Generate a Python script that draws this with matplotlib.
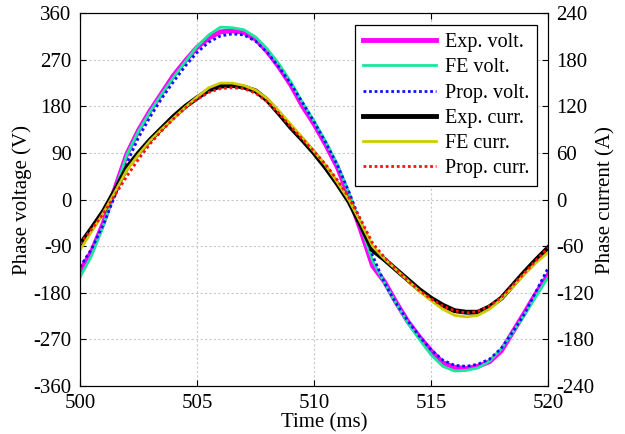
import numpy as np
import matplotlib
matplotlib.use("Agg")
import matplotlib.pyplot as plt

# time axis (ms)
t = np.arange(500.0, 520.01, 0.5)

# phase voltages (V)
exp_volt = [-138, -100, -45, 22, 88, 134, 172, 206, 240, 268, 294, 312, 324, 326, 323, 310,
            286, 256, 222, 181, 146, 106, 62, 5, -60, -128, -158, -198, -235, -265, -292, -315,
            -324, -326, -322, -313, -292, -255, -218, -180, -145]
fe_volt = [-150, -108, -50, 18, 86, 132, 170, 204, 236, 266, 296, 318, 333, 332, 328, 314,
           291, 262, 228, 188, 152, 112, 68, 12, -52, -118, -160, -200, -238, -270, -300, -322,
           -331, -330, -325, -312, -288, -256, -222, -186, -150]
prop_volt = [-130, -95, -48, 8, 70, 120, 160, 196, 228, 258, 284, 304, 316, 320, 318, 306,
             284, 256, 224, 188, 150, 110, 66, 14, -44, -108, -160, -200, -234, -264, -290, -310,
             -320, -322, -318, -308, -287, -255, -220, -176, -132]

# phase currents (A)
exp_curr = [-58, -37, -15, 12, 41, 60, 77, 92, 107, 120, 131, 141, 146, 147, 145, 140,
            128, 111, 93, 77, 60, 41, 20, -3, -33, -65, -77, -90, -103, -116, -127, -136,
            -143, -145, -145, -138, -127, -110, -93, -77, -62]
fe_curr = [-65, -41, -17, 10, 38, 58, 76, 91, 105, 119, 132, 144, 150, 150, 147, 141,
           130, 114, 97, 80, 62, 44, 22, -1, -30, -60, -76, -90, -104, -118, -130, -141,
           -149, -151, -149, -141, -128, -112, -96, -81, -68]
prop_curr = [-57, -38, -18, 6, 30, 52, 72, 89, 104, 118, 129, 138, 143, 144, 143, 137,
             126, 111, 94, 78, 62, 45, 25, 2, -26, -56, -74, -90, -104, -117, -128, -137,
             -143, -146, -144, -137, -126, -110, -94, -78, -62]

plt.rcParams["font.family"] = ["Liberation Serif", "DejaVu Serif"]
plt.rcParams["font.size"] = 15
plt.rcParams["axes.unicode_minus"] = False

fig = plt.figure(figsize=(6.25, 4.34), dpi=100)
ax = fig.add_axes([0.128, 0.1106, 0.749, 0.859])
ax2 = ax.twinx()

h1, = ax.plot(t, exp_volt, color="#FF00FF", lw=3.5, label="Exp. volt.")
h2, = ax.plot(t, fe_volt, color="#19E89A", lw=2, label="FE volt.")
h3, = ax.plot(t, prop_volt, color="#1010FF", lw=2, ls=(0, (1, 1)), label="Prop. volt.")
h4, = ax2.plot(t, exp_curr, color="black", lw=3.5, label="Exp. curr.")
h5, = ax2.plot(t, fe_curr, color="#CCCC00", lw=2, label="FE curr.")
h6, = ax2.plot(t, prop_curr, color="#FF1010", lw=2, ls=(0, (1, 1)), label="Prop. curr.")

ax.set_xlim(500, 520)
ax.set_ylim(-360, 360)
ax2.set_ylim(-240, 240)
ax.set_xticks(np.arange(500, 521, 5))
ax.set_yticks(np.arange(-360, 361, 90))
ax2.set_yticks(np.arange(-240, 241, 60))

ax.grid(True, color="#c8c8c8", ls=(0, (2, 2)), lw=0.8)
ax.tick_params(direction="in", top=True, length=4, pad=6, labelsize=15)
ax2.tick_params(direction="in", length=4, pad=6, labelsize=15)

ax.set_xlabel("Time (ms)")
ax.xaxis.set_label_coords(0.521, -0.072)
ax.set_ylabel("Phase voltage (V)", labelpad=1)
ax2.set_ylabel("Phase current (A)", labelpad=1)

leg = ax2.legend(handles=[h1, h2, h3, h4, h5, h6], loc="upper right",
                 bbox_to_anchor=(0.977, 0.968), handlelength=3.6, fancybox=False,
                 framealpha=1, edgecolor="black", borderpad=0.4, labelspacing=0.3,
                 handletextpad=0.45, fontsize=14.5, borderaxespad=0)
leg.get_frame().set_linewidth(0.9)

fig.savefig("out.png", dpi=100)
